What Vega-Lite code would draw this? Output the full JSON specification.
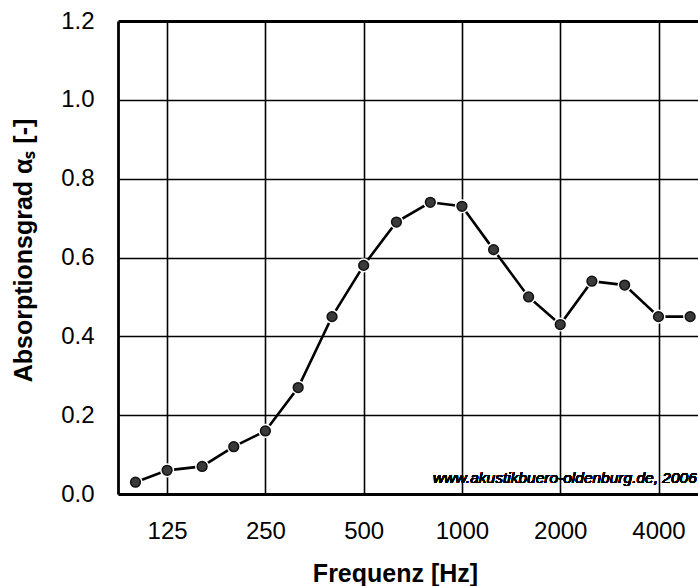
{
  "$schema": "https://vega.github.io/schema/vega-lite/v6.json",
  "autosize": {"type": "none"},
  "padding": {"left": 118, "top": 21, "right": 0, "bottom": 92},
  "width": 580,
  "height": 473,
  "background": "white",
  "config": {
    "view": {"stroke": null},
    "font": "Liberation Sans"
  },
  "data": {
    "values": [
      {"f": 100, "a": 0.03},
      {"f": 125, "a": 0.06},
      {"f": 160, "a": 0.07},
      {"f": 200, "a": 0.12},
      {"f": 250, "a": 0.16},
      {"f": 315, "a": 0.27},
      {"f": 400, "a": 0.45},
      {"f": 500, "a": 0.58},
      {"f": 630, "a": 0.69},
      {"f": 800, "a": 0.74},
      {"f": 1000, "a": 0.73},
      {"f": 1250, "a": 0.62},
      {"f": 1600, "a": 0.50},
      {"f": 2000, "a": 0.43},
      {"f": 2500, "a": 0.54},
      {"f": 3150, "a": 0.53},
      {"f": 4000, "a": 0.45},
      {"f": 5000, "a": 0.45}
    ]
  },
  "encoding": {
    "x": {
      "field": "f",
      "type": "quantitative",
      "scale": {"type": "log", "base": 2, "domain": [88.4, 5285], "nice": false},
      "axis": {
        "values": [125, 250, 500, 1000, 2000, 4000],
        "format": "d",
        "title": "Frequenz [Hz]",
        "titleFontSize": 25,
        "titleFontWeight": "bold",
        "titleColor": "black",
        "titleX": 277,
        "titleY": 87,
        "titleBaseline": "alphabetic",
        "labelFontSize": 24,
        "labelColor": "black",
        "labelPadding": 25,
        "ticks": false,
        "domainColor": "black",
        "domainWidth": 2.8,
        "grid": true,
        "gridColor": "black",
        "gridWidth": 1.6,
        "gridOpacity": 1
      }
    },
    "y": {
      "field": "a",
      "type": "quantitative",
      "scale": {"domain": [0, 1.2], "nice": false},
      "axis": {
        "values": [0, 0.2, 0.4, 0.6, 0.8, 1.0, 1.2],
        "format": ".1f",
        "title": "Absorptionsgrad αₛ [-]",
        "titleFontSize": 25,
        "titleFontWeight": "bold",
        "titleColor": "black",
        "titlePadding": 24,
        "titleY": 229,
        "labelFontSize": 24,
        "labelColor": "black",
        "labelPadding": 24,
        "ticks": false,
        "domainColor": "black",
        "domainWidth": 2.8,
        "grid": true,
        "gridColor": "black",
        "gridOpacity": 1,
        "gridWidth": {"condition": {"test": "datum.value >= 1.19", "value": 2.8}, "value": 1.6}
      }
    }
  },
  "layer": [
    {"mark": {"type": "line", "color": "black", "strokeWidth": 2.6}},
    {"mark": {"type": "point", "filled": true, "color": "white", "size": 200, "opacity": 1}},
    {"mark": {"type": "point", "filled": true, "fill": "#3a3a3a", "stroke": "#111111", "strokeWidth": 1.5, "size": 95, "opacity": 1}},
    {
      "mark": {"type": "text", "text": "www.akustikbuero-oldenburg.de, 2006", "align": "right", "baseline": "alphabetic", "fontStyle": "italic", "fontWeight": "normal", "fontSize": 15.5, "color": "black"},
      "encoding": {"x": {"datum": 5240, "type": "quantitative"}, "y": {"datum": 0.028, "type": "quantitative"}}
    }
  ]
}
